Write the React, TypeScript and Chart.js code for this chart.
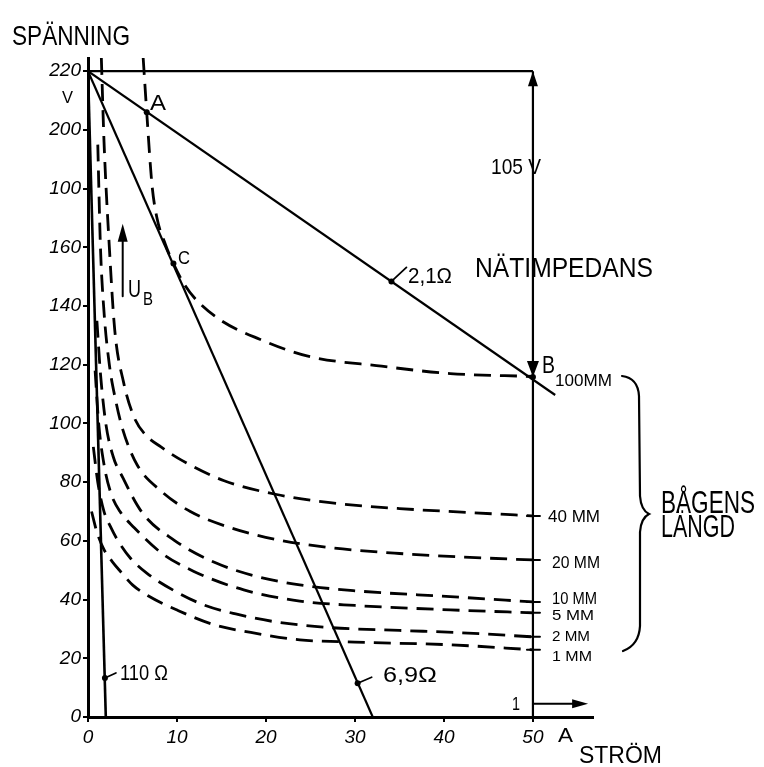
import React, { useEffect, useRef } from 'react';
import { Chart, registerables } from 'chart.js';

Chart.register(...registerables);

const W = 764;
const H = 767;
const FONT = '"Liberation Sans", "DejaVu Sans", Arial, sans-serif';

// Axis ticks (voltage V, current A)
const tickV = [0, 20, 40, 60, 80, 100, 120, 140, 160, 180, 200, 220];
const tickVLabels = ['0', '20', '40', '60', '80', '100', '120', '140', '160', '100', '200', '220'];
const tickA = [0, 10, 20, 30, 40, 50];
const tickALabels = ['0', '10', '20', '30', '40', '50'];

// Arc characteristics (current A, voltage V) per arc length
const arcLabels = ['100MM', '40 MM', '20 MM', '10 MM', '5 MM', '2 MM', '1 MM'];
const arc100I = [6.2, 6.6, 7.2, 7.75, 8.7, 9.6, 10.8, 12.2, 15, 19.3, 24.6, 33, 40.7, 50];
const arc100U = [224.5, 206, 181, 170, 161, 154.5, 147.5, 142, 135, 128.7, 123, 119.5, 117, 116];
const arc40I = [1.5, 1.8, 2.4, 3.0, 4.0, 5.2, 6.5, 8.2, 10.5, 15.3, 21.2, 27.2, 35, 42, 50];
const arc40U = [224.5, 196, 160, 132, 114, 102, 96, 92, 87.5, 80.5, 75.8, 73, 71, 69.8, 68.5];
const arc20I = [1.1, 1.4, 1.8, 2.4, 3.1, 3.9, 5.5, 8.2, 11.5, 16, 21.2, 27.2, 35, 42, 50];
const arc20U = [195, 160, 138, 120, 108, 98, 86, 77, 70, 64.5, 60.4, 57.7, 55.7, 54.5, 53.5];
const arc10I = [1.0, 1.4, 2.0, 2.8, 3.9, 6.1, 9.7, 14.2, 18.7, 23.8, 30, 40.7, 50];
const arc10U = [135, 117, 100, 89, 81.6, 69.6, 60.2, 52.7, 48.1, 45, 43, 41, 39.2];
const arc5I = [0.8, 1.2, 1.8, 2.6, 3.6, 5.2, 8.2, 11.9, 17.5, 23.8, 30, 40.7, 50];
const arc5U = [118, 100, 86, 76, 70, 64.5, 56, 49.6, 43.3, 39.5, 38, 36.5, 35.5];
const arc2I = [0.6, 1.1, 1.8, 2.5, 3.3, 4.8, 6.6, 9.7, 13, 16.6, 20.9, 27, 35, 42, 50];
const arc2U = [92, 80, 70, 65, 60.4, 54, 49, 43, 38.2, 35.1, 32.5, 30.5, 29.5, 28.7, 27.3];
const arc1I = [0.4, 1.0, 1.8, 2.7, 3.7, 5.0, 6.7, 10.1, 14.2, 18.3, 23.8, 30, 40.7, 50];
const arc1U = [70, 63, 57, 53, 49.4, 45, 41.4, 36.3, 31.4, 28.8, 26.3, 25.5, 24.6, 22.9];

// Load lines (current A, voltage V)
const r21I = [0, 52.5];
const r21U = [220, 109.7];
const r69I = [0, 32];
const r69U = [220, 0];
const r110I = [0, 2];
const r110U = [220, 0];
const openI = [0, 50];
const openU = [220, 220];
const markI = [50, 50];
const markU = [0, 220];

// Marked points: A, C, 2,1Ω, 6,9Ω, 110Ω, B
const dotI = [6.6, 9.6, 34.1, 30.3, 1.9, 50];
const dotU = [206, 154.5, 148.4, 11.5, 13.3, 115.8];

const pts = (xs: number[], ys: number[]) => xs.map((x, i) => ({ x, y: ys[i] }));

const arcSeries = [
  [arc100I, arc100U],
  [arc40I, arc40U],
  [arc20I, arc20U],
  [arc10I, arc10U],
  [arc5I, arc5U],
  [arc2I, arc2U],
  [arc1I, arc1U],
];

function fitText(ctx: CanvasRenderingContext2D, text: string, x: number, y: number, size: number, width: number, style = '') {
  ctx.save();
  ctx.font = `${style} ${size}px ${FONT}`;
  ctx.textAlign = 'left';
  ctx.textBaseline = 'alphabetic';
  const m = ctx.measureText(text).width;
  const sx = width > 0 ? width / m : 1;
  ctx.translate(x, y);
  ctx.scale(sx, 1);
  ctx.fillStyle = '#000';
  ctx.fillText(text, 0, 0);
  ctx.restore();
}

function arrowHead(ctx: CanvasRenderingContext2D, tx: number, ty: number, dx: number, dy: number, len: number, half: number) {
  const bx = tx - dx * len;
  const by = ty - dy * len;
  const nx = -dy;
  const ny = dx;
  ctx.beginPath();
  ctx.moveTo(tx, ty);
  ctx.lineTo(bx + nx * half, by + ny * half);
  ctx.lineTo(bx - nx * half, by - ny * half);
  ctx.closePath();
  ctx.fill();
}

const annotations = {
  id: 'annotations',
  afterDatasetsDraw(chart: any) {
    const ctx: CanvasRenderingContext2D = chart.ctx;
    const xs = chart.scales.x;
    const ys = chart.scales.y;
    const px = (v: number) => xs.getPixelForValue(v);
    const py = (v: number) => ys.getPixelForValue(v);
    ctx.save();
    ctx.strokeStyle = '#000';
    ctx.fillStyle = '#000';
    ctx.lineCap = 'round';

    // arrows on the 50 A line
    arrowHead(ctx, px(50), py(220), 0, -1, 15, 5);
    arrowHead(ctx, px(50), py(dotU[5]), 0, 1, 16, 6);

    // U_B arrow
    ctx.lineWidth = 2;
    ctx.beginPath();
    ctx.moveTo(px(3.9), py(143.3));
    ctx.lineTo(px(3.9), py(162));
    ctx.stroke();
    arrowHead(ctx, px(3.9), py(168), 0, -1, 18, 5);

    // "1" arrow at the bottom
    ctx.beginPath();
    ctx.moveTo(px(50), py(4.5));
    ctx.lineTo(px(55.5), py(4.5));
    ctx.stroke();
    arrowHead(ctx, px(56.2), py(4.5), 1, 0, 16, 4.5);

    // small ticks at arc ends on the 50 A line
    ctx.lineWidth = 2;
    arcSeries.slice(1).forEach(([, u]) => {
      const y = py(u[u.length - 1]);
      ctx.beginPath();
      ctx.moveTo(px(50) - 6, y);
      ctx.lineTo(px(50) + 7, y);
      ctx.stroke();
    });

    // leaders from points to labels
    ctx.lineWidth = 1.8;
    const leader = (i: number, dx: number, dy: number) => {
      ctx.beginPath();
      ctx.moveTo(px(dotI[i]), py(dotU[i]));
      ctx.lineTo(px(dotI[i]) + dx, py(dotU[i]) + dy);
      ctx.stroke();
    };
    leader(2, 15, -14);
    leader(3, 14, -6);
    leader(4, 11, -5);

    // brace
    ctx.lineWidth = 2.2;
    ctx.beginPath();
    ctx.moveTo(622, 376);
    ctx.quadraticCurveTo(638, 378, 639, 396);
    ctx.lineTo(640, 496);
    ctx.quadraticCurveTo(641, 510, 649, 514);
    ctx.quadraticCurveTo(641, 518, 640, 532);
    ctx.lineTo(640, 626);
    ctx.quadraticCurveTo(639, 645, 623, 651);
    ctx.stroke();

    // texts
    fitText(ctx, 'SPÄNNING', 12, 45, 27, 118);
    fitText(ctx, 'V', 62, 103, 17, 11);
    fitText(ctx, 'A', 150, 110, 22, 16);
    fitText(ctx, 'C', 178, 264, 18, 12);
    fitText(ctx, 'U', 128, 297, 24, 13);
    fitText(ctx, 'B', 143, 305, 18, 10);
    fitText(ctx, '105 V', 491, 174, 22, 50);
    fitText(ctx, '2,1Ω', 408, 283, 22, 44);
    fitText(ctx, 'NÄTIMPEDANS', 475, 277, 28, 178);
    fitText(ctx, 'B', 542, 373, 24, 13);
    fitText(ctx, arcLabels[0], 555, 386, 17, 57);
    fitText(ctx, arcLabels[1], 548, 522, 17, 52);
    fitText(ctx, arcLabels[2], 552, 568, 17, 48);
    fitText(ctx, arcLabels[3], 552, 604, 16, 45);
    fitText(ctx, arcLabels[4], 552, 620, 15, 42);
    fitText(ctx, arcLabels[5], 552, 641, 15, 38);
    fitText(ctx, arcLabels[6], 552, 661, 15, 40);
    fitText(ctx, 'BÅGENS', 661, 513, 31, 94);
    fitText(ctx, 'LÄNGD', 661, 537, 31, 74);
    fitText(ctx, 'STRÖM', 579, 763, 24, 83);
    fitText(ctx, 'A', 558, 742, 20, 15);
    fitText(ctx, '1', 512, 710, 19, 8);
    fitText(ctx, '110 Ω', 120, 680, 22, 48);
    fitText(ctx, '6,9Ω', 383, 682, 22, 54);
    ctx.restore();
  },
};

const fixV = (s: any) => {
  s.width = 88;
  s.paddingLeft = 0; s.paddingRight = 0; s.paddingTop = 0; s.paddingBottom = 0;
};
const fixH = (s: any) => {
  s.height = 50;
  s.paddingLeft = 0; s.paddingRight = 0; s.paddingTop = 0; s.paddingBottom = 0;
};

export default function App() {
  const ref = useRef<HTMLCanvasElement>(null);
  useEffect(() => {
    if (!ref.current) return;
    const solid = (data: any[], w = 2.2) => ({
      data, showLine: true, borderColor: '#000', borderWidth: w, pointRadius: 0, tension: 0, fill: false,
    });
    const dashed = (data: any[]) => ({
      data, showLine: true, borderColor: '#000', borderWidth: 2.8, pointRadius: 0,
      borderDash: [17, 9], cubicInterpolationMode: 'monotone', fill: false, borderCapStyle: 'butt',
    });
    const chart = new Chart(ref.current, {
      type: 'scatter',
      data: {
        datasets: [
          solid(pts(r21I, r21U)),
          solid(pts(r69I, r69U)),
          solid(pts(r110I, r110U), 2.6),
          solid(pts(openI, openU)),
          solid(pts(markI, markU)),
          ...arcSeries.map(([i, u]) => dashed(pts(i, u))),
          {
            data: pts(dotI, dotU), showLine: false, pointRadius: 3, pointBackgroundColor: '#000',
            pointBorderWidth: 0, backgroundColor: '#000',
          },
        ] as any,
      },
      options: {
        responsive: false,
        animation: false,
        devicePixelRatio: 1,
        events: [],
        layout: { padding: { left: 0, top: 58, right: 171, bottom: 0 } },
        plugins: { legend: { display: false }, tooltip: { enabled: false } },
        scales: {
          x: {
            type: 'linear', min: 0, max: 56.75,
            afterFit: fixH,
            afterBuildTicks: (s: any) => { s.ticks = tickA.map((v) => ({ value: v })); },
            ticks: {
              callback: (_v: any, i: number) => tickALabels[i],
              color: '#000', padding: 4, maxRotation: 0, autoSkip: false,
              font: { family: FONT, size: 19, style: 'italic' },
            },
            grid: { display: true, drawOnChartArea: false, drawTicks: true, tickLength: 5, color: '#000', lineWidth: 2 },
            border: { display: true, color: '#000', width: 3 },
          },
          y: {
            type: 'linear', min: 0, max: 224.5,
            afterFit: fixV,
            afterBuildTicks: (s: any) => { s.ticks = tickV.map((v) => ({ value: v })); },
            ticks: {
              callback: (_v: any, i: number) => tickVLabels[i],
              color: '#000', padding: 2, autoSkip: false,
              font: { family: FONT, size: 19, style: 'italic' },
            },
            grid: { display: true, drawOnChartArea: false, drawTicks: true, tickLength: 5, color: '#000', lineWidth: 2 },
            border: { display: true, color: '#000', width: 3 },
          },
        },
      } as any,
      plugins: [annotations],
    });
    return () => chart.destroy();
  }, []);
  return (
    <div style={{ position: 'fixed', left: 0, top: 0, width: W, height: H, background: '#fff' }}>
      <canvas ref={ref} width={W} height={H} style={{ display: 'block', width: W, height: H }} />
    </div>
  );
}
